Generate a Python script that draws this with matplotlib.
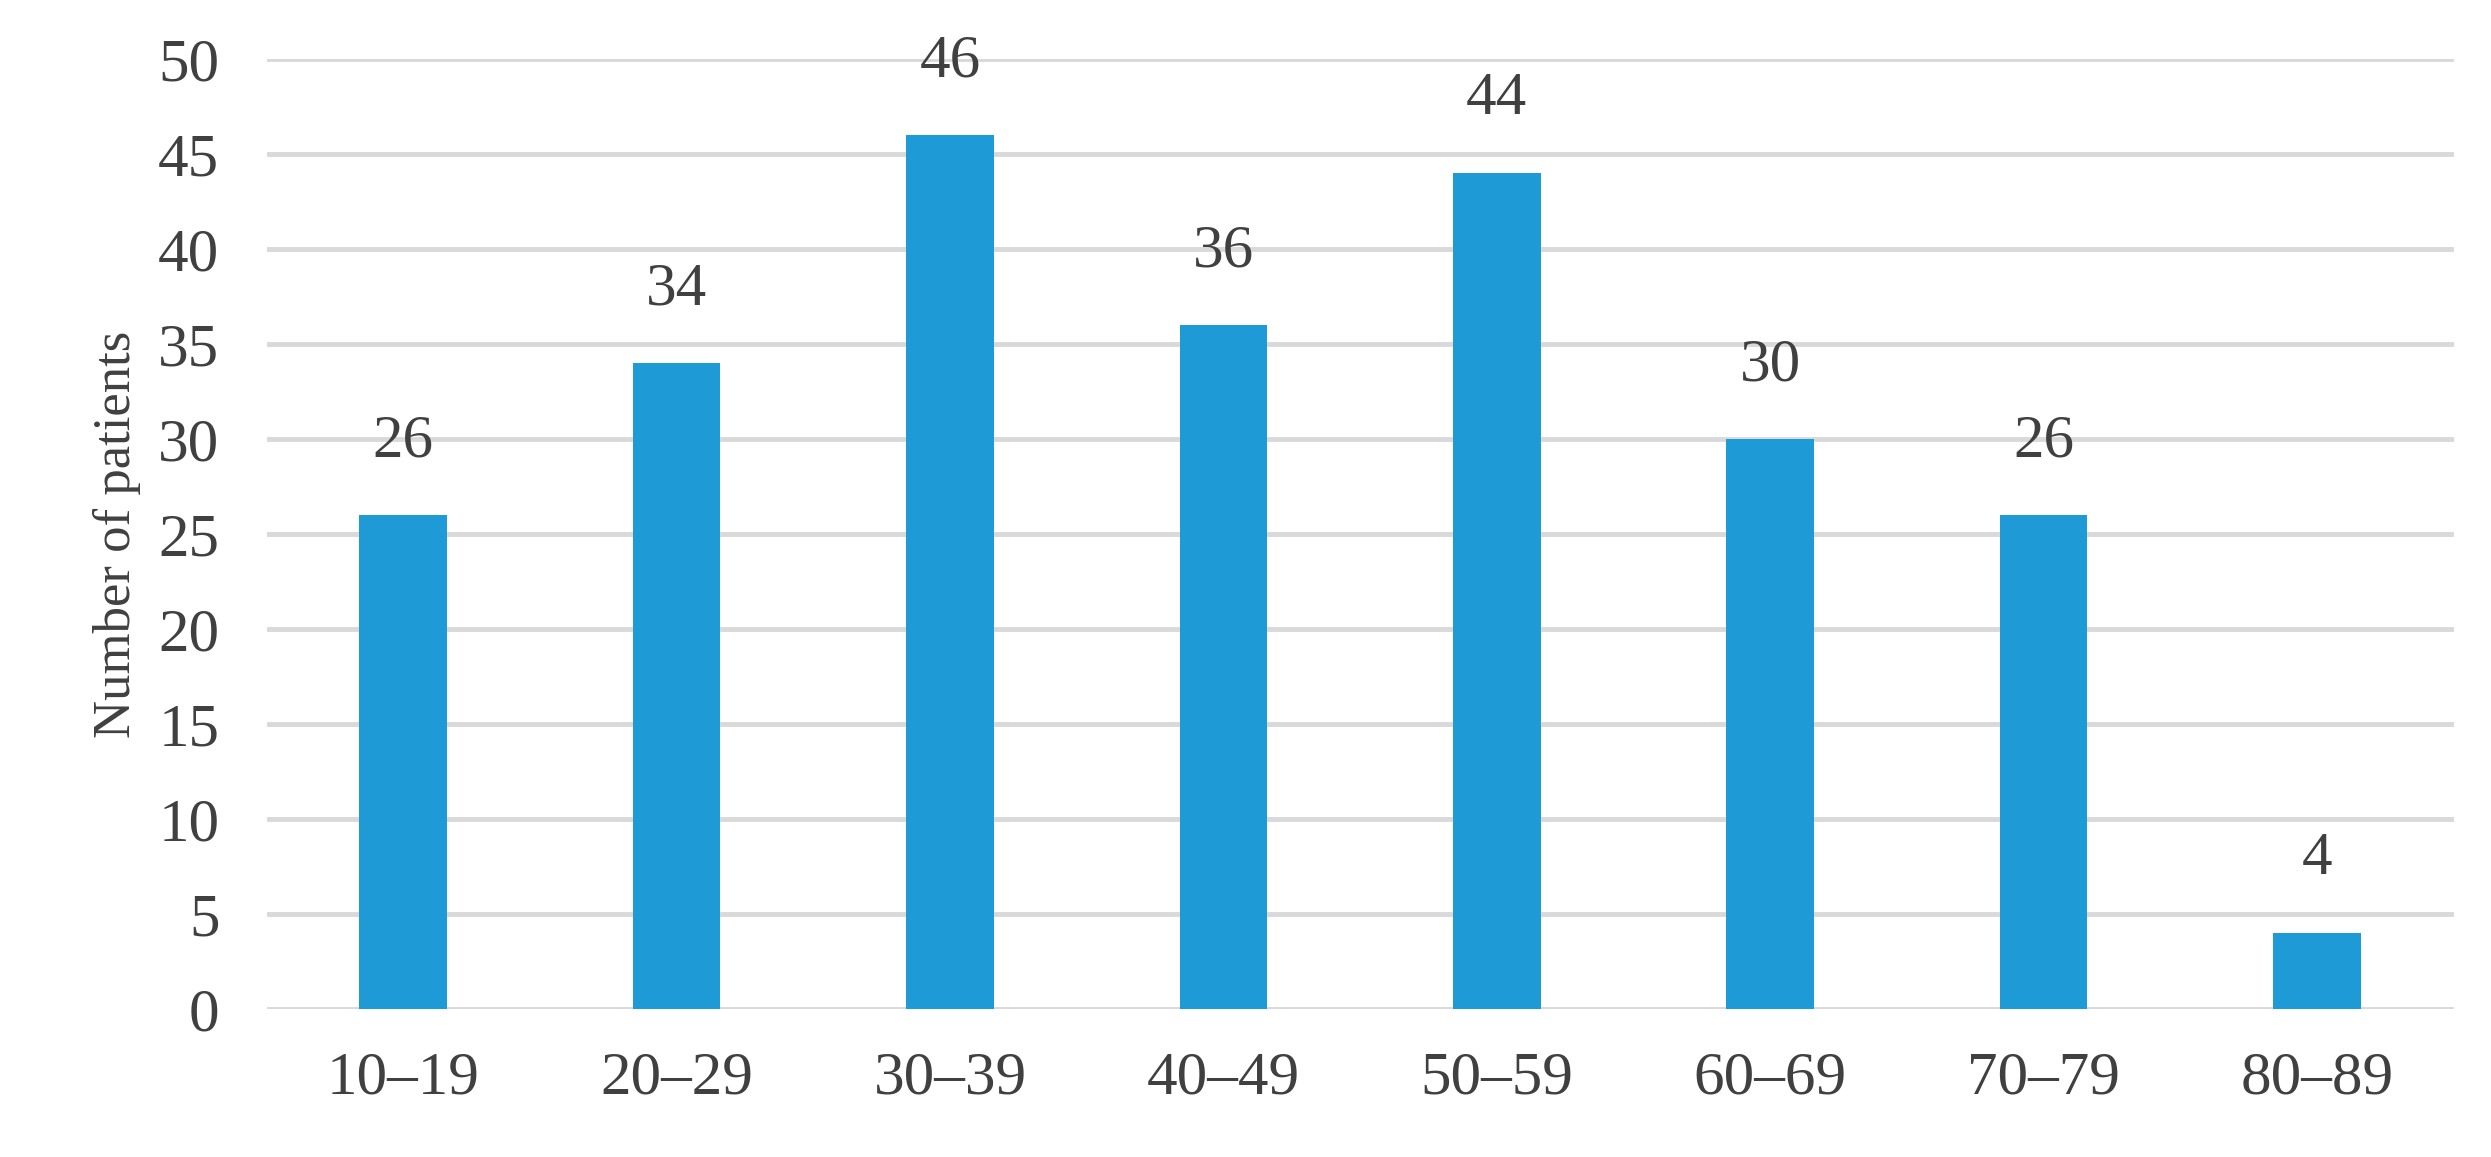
import matplotlib
matplotlib.use('Agg')
import matplotlib.pyplot as plt

age_groups = ["10\u201319", "20\u201329", "30\u201339", "40\u201349",
              "50\u201359", "60\u201369", "70\u201379", "80\u201389"]
patients = [26, 34, 46, 36, 44, 30, 26, 4]
yticks = [0, 5, 10, 15, 20, 25, 30, 35, 40, 45, 50]

plt.rcParams['font.family'] = ['Liberation Serif', 'DejaVu Serif']
text_color = '#404040'

fig = plt.figure(figsize=(24.91, 11.57), dpi=100)
ax = fig.add_axes([0.107, 0.128, 0.878, 0.821])

x = range(len(age_groups))
bars = ax.bar(x, patients, width=0.32, color='#1E9BD7', zorder=3)
for bar, val in zip(bars, patients):
    ax.text(bar.get_x() + bar.get_width() / 2, val + 2.4, str(val),
            ha='center', va='bottom', fontsize=44, color=text_color)

ax.set_ylim(0, 50)
ax.set_xlim(-0.5, len(age_groups) - 0.5)
ax.set_yticks(yticks)
ax.set_xticks(list(x))
ax.set_xticklabels(age_groups)
ax.tick_params(axis='both', length=0, labelsize=44, labelcolor=text_color)
ax.tick_params(axis='x', pad=30)
ax.tick_params(axis='y', pad=34)
ax.grid(axis='y', color='#D9D9D9', linewidth=3.5, zorder=0)
for s in ax.spines.values():
    s.set_visible(False)
ax.set_ylabel('Number of patients', fontsize=38, color=text_color, labelpad=12)

fig.savefig('out.png', dpi=100)
